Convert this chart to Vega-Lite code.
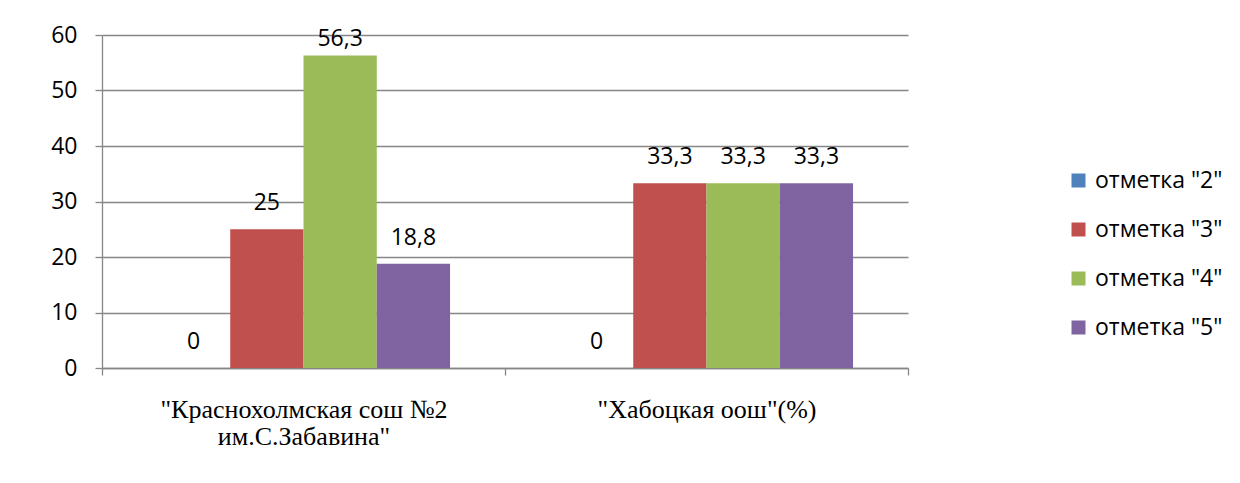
{
  "$schema": "https://vega.github.io/schema/vega-lite/v6.json",
  "width": 806,
  "height": 333,
  "autosize": {"type": "none"},
  "padding": {"left": 102, "top": 35, "right": 332, "bottom": 115},
  "background": "white",
  "config": {
    "locale": {"number": {"decimal": ",", "thousands": " ", "grouping": [3], "currency": ["", ""]}},
    "view": {"stroke": null},
    "axis": {
      "domainColor": "#868686",
      "domainWidth": 1.3,
      "tickColor": "#868686",
      "tickWidth": 1.3,
      "gridColor": "#868686",
      "gridWidth": 1.3,
      "labelColor": "#000000",
      "title": null
    }
  },
  "data": {
    "values": [
      {"school": "\"Краснохолмская сош №2\nим.С.Забавина\"", "series": "отметка \"2\"", "value": 0},
      {"school": "\"Краснохолмская сош №2\nим.С.Забавина\"", "series": "отметка \"3\"", "value": 25},
      {"school": "\"Краснохолмская сош №2\nим.С.Забавина\"", "series": "отметка \"4\"", "value": 56.3},
      {"school": "\"Краснохолмская сош №2\nим.С.Забавина\"", "series": "отметка \"5\"", "value": 18.8},
      {"school": "\"Хабоцкая оош\"(%)", "series": "отметка \"2\"", "value": 0},
      {"school": "\"Хабоцкая оош\"(%)", "series": "отметка \"3\"", "value": 33.3},
      {"school": "\"Хабоцкая оош\"(%)", "series": "отметка \"4\"", "value": 33.3},
      {"school": "\"Хабоцкая оош\"(%)", "series": "отметка \"5\"", "value": 33.3}
    ]
  },
  "encoding": {
    "x": {
      "field": "school",
      "type": "nominal",
      "sort": null,
      "scale": {"paddingInner": 0, "paddingOuter": 0},
      "axis": {
        "labelAngle": 0,
        "labelFont": "Liberation Serif",
        "labelFontSize": 26,
        "labelBaseline": "top",
        "labelLineHeight": 27,
        "labelPadding": 21,
        "labelLimit": 400,
        "labelExpr": "split(datum.label, '\\n')",
        "tickBand": "extent",
        "tickSize": 7,
        "grid": false
      }
    },
    "xOffset": {
      "field": "series",
      "type": "nominal",
      "sort": null,
      "scale": {"paddingInner": 0, "paddingOuter": 0.75}
    },
    "y": {
      "field": "value",
      "type": "quantitative",
      "scale": {"domain": [0, 60], "nice": false},
      "axis": {
        "values": [0, 10, 20, 30, 40, 50, 60],
        "grid": true,
        "labelFont": "Open Sans",
        "labelFontSize": 23,
        "labelPadding": 18,
        "tickSize": 7
      }
    }
  },
  "layer": [
    {
      "mark": {"type": "bar"},
      "encoding": {
        "color": {
          "field": "series",
          "type": "nominal",
          "sort": null,
          "scale": {
            "domain": ["отметка \"2\"", "отметка \"3\"", "отметка \"4\"", "отметка \"5\""],
            "range": ["#4F81BD", "#C0504D", "#9BBB59", "#8064A2"]
          },
          "legend": {
            "orient": "none",
            "legendX": 965,
            "legendY": 134,
            "title": null,
            "symbolType": "square",
            "symbolSize": 196,
            "symbolStrokeWidth": 0,
            "labelFont": "Open Sans",
            "labelFontSize": 23,
            "labelColor": "#000000",
            "labelOffset": 5,
            "rowPadding": 25,
            "labelLimit": 300
          }
        }
      }
    },
    {
      "transform": [{"filter": "datum.value < 50"}],
      "mark": {"type": "text", "baseline": "alphabetic", "dy": -19, "font": "Open Sans", "fontSize": 23, "color": "#000000"},
      "encoding": {"text": {"field": "value", "type": "quantitative", "format": ".1~f"}}
    },
    {
      "transform": [{"filter": "datum.value >= 50"}],
      "mark": {"type": "text", "baseline": "alphabetic", "dy": -10, "font": "Open Sans", "fontSize": 23, "color": "#000000"},
      "encoding": {"text": {"field": "value", "type": "quantitative", "format": ".1~f"}}
    }
  ]
}
